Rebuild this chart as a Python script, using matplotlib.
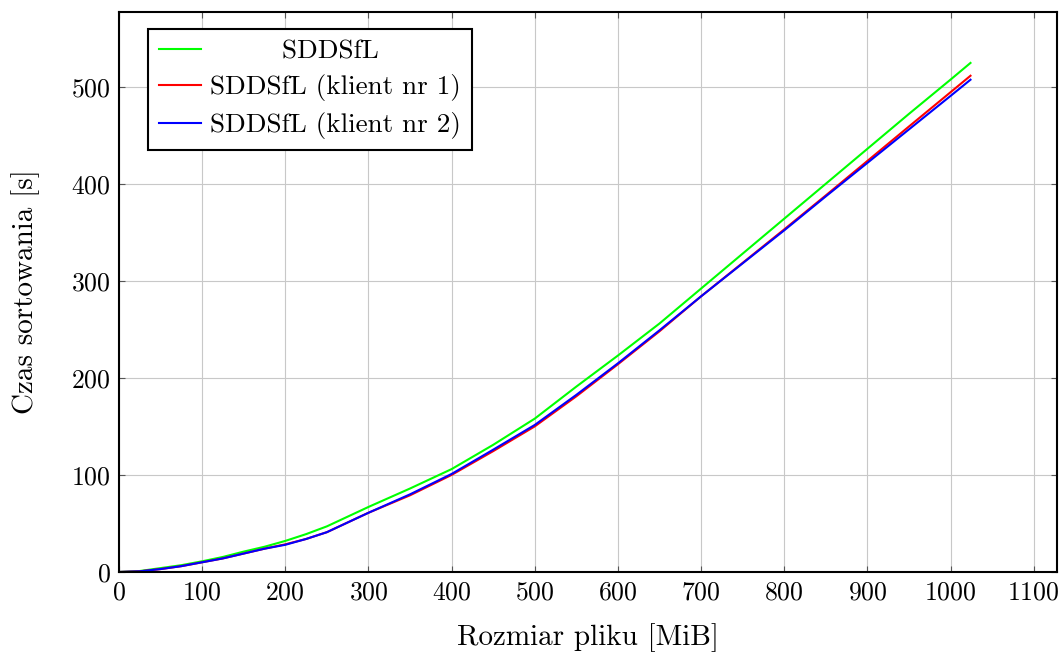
import matplotlib
matplotlib.use("Agg")
import matplotlib.pyplot as plt

plt.rcParams['font.family'] = ['cmr10', 'DejaVu Serif']
plt.rcParams['axes.formatter.use_mathtext'] = True
plt.rcParams['mathtext.fontset'] = 'cm'

# rozmiar pliku [MiB]
rozmiar = [0, 25, 50, 75, 100, 125, 150, 175, 200, 225, 250, 300, 350, 400, 450,
           500, 550, 600, 650, 700, 750, 800, 850, 900, 950, 1000, 1024]
# czas sortowania [s]
czas_sddsfl = [0, 1, 4, 7, 11, 15.5, 21, 26, 32, 39, 47, 67, 86, 106, 131,
               158, 191, 223, 256, 292, 328, 364, 400, 436, 472, 507.3, 524.5]
czas_klient1 = [0, 0.7, 3, 6, 10, 14, 19, 24, 28.5, 34, 41, 61, 79, 100, 124.5,
                150, 181, 214, 248, 284, 318.5, 353, 388, 423.5, 459, 494.3, 511.3]
czas_klient2 = [0, 0.7, 3, 6, 10, 14, 19, 24, 28, 34, 41, 61, 80, 101, 126,
                151.5, 182.5, 215, 249, 284, 318, 352, 387, 421.5, 456, 490.5, 507.2]

etykiety = ['        SDDSfL', 'SDDSfL (klient nr 1)', 'SDDSfL (klient nr 2)']
kolory = ['#00ff00', '#ff0000', '#0000ff']

fig = plt.figure(figsize=(10.64, 6.54), dpi=100)
ax = fig.add_axes([0.1118, 0.1254, 0.8816, 0.8563])

ax.plot(rozmiar, czas_sddsfl, color=kolory[0], lw=1.5, label=etykiety[0])
ax.plot(rozmiar, czas_klient1, color=kolory[1], lw=1.5, label=etykiety[1])
ax.plot(rozmiar, czas_klient2, color=kolory[2], lw=1.5, label=etykiety[2])

ax.set_xlim(0, 1128)
ax.set_ylim(0, 577)
ax.set_xticks(range(0, 1101, 100))
ax.set_yticks(range(0, 501, 100))
ax.grid(True, color='#c8c8c8', lw=0.8)
ax.set_axisbelow(True)
ax.tick_params(direction='in', length=4, width=0.8, color='#555555',
               top=True, right=True, labelsize=18.5, pad=6)
for s in ax.spines.values():
    s.set_linewidth(1.5)

ax.set_xlabel('Rozmiar pliku [MiB]', fontsize=21, labelpad=14)
ax.set_ylabel('Czas sortowania [s]', fontsize=21, labelpad=22)

leg = ax.legend(loc='upper left', fontsize=19.5, fancybox=False, framealpha=1,
                edgecolor='black', handlelength=1.55, handletextpad=0.35,
                borderpad=0.4, labelspacing=0.4, borderaxespad=0,
                bbox_to_anchor=(0.031, 0.970))
leg.get_frame().set_linewidth(1.5)

fig.savefig('out.png', dpi=100)
